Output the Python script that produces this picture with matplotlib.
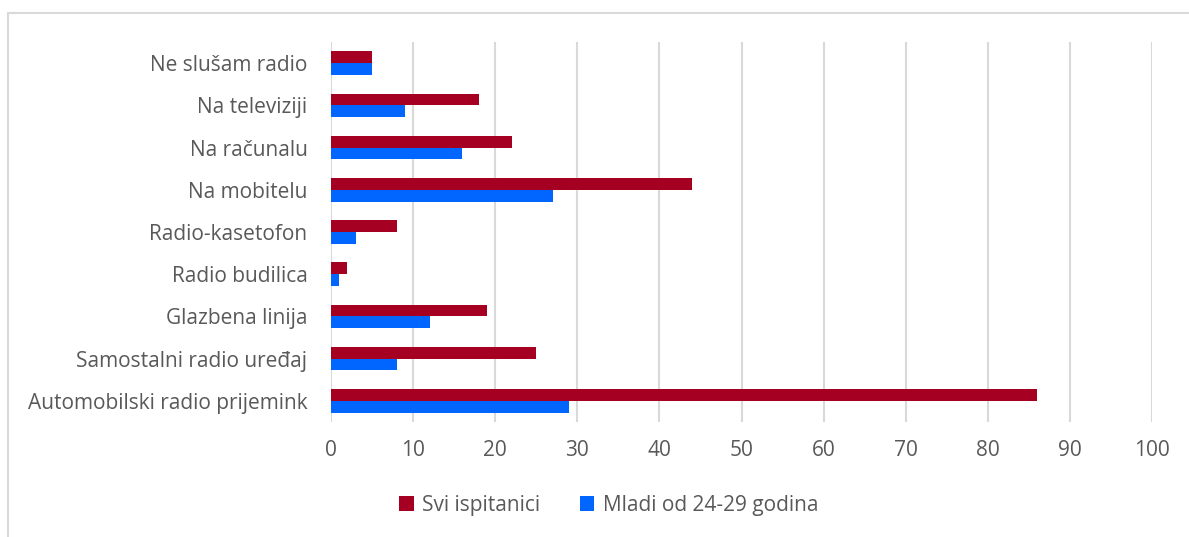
import numpy as np
import matplotlib
matplotlib.use('Agg')
from matplotlib import pyplot as plt
from matplotlib.patches import Rectangle

categories = ['Ne slušam radio', 'Na televiziji', 'Na računalu', 'Na mobitelu',
              'Radio-kasetofon', 'Radio budilica', 'Glazbena linija',
              'Samostalni radio uređaj', 'Automobilski radio prijemink']
svi = [5, 18, 22, 44, 8, 2, 19, 25, 86]
mladi = [5, 9, 16, 27, 3, 1, 12, 8, 29]

colorSvi = '#A50021'
colorMladi = '#0066FF'
textColor = '#595959'

plt.rcParams['font.family'] = ['Open Sans', 'DejaVu Sans']

fig = plt.figure(figsize=(11.89, 5.37), dpi=100)
ax = fig.add_axes([0.2784, 0.2142, 0.6905, 0.7076])

# top category first -> reverse positions
y = np.arange(len(categories))[::-1]
h = 0.28
ax.barh(y + h/2, svi, height=h, color=colorSvi, label='Svi ispitanici', zorder=3)
ax.barh(y - h/2, mladi, height=h, color=colorMladi, label='Mladi od 24-29 godina', zorder=3)

ax.set_xlim(0, 100)
ax.set_ylim(-0.5, len(categories) - 0.5)
ax.set_xticks(np.arange(0, 101, 10))
ax.set_yticks(y)
ax.set_yticklabels(categories)
ax.grid(axis='x', color='#D9D9D9', linewidth=1.5, zorder=0)
for s in ax.spines.values():
    s.set_visible(False)
ax.tick_params(axis='both', length=0, labelsize=15, colors=textColor)
ax.tick_params(axis='x', pad=13)
ax.tick_params(axis='y', pad=17)

fig.legend(loc='center', bbox_to_anchor=(0.512, 1 - 505/537), ncol=2, frameon=False,
           fontsize=15, labelcolor=textColor, handlelength=0.7, handleheight=0.7,
           columnspacing=1.9, handletextpad=0.4)

fig.patches.append(Rectangle((8/1189, -0.1), 1.1, 1 - 13/537 + 0.1, transform=fig.transFigure,
                             fill=False, edgecolor='#D9D9D9', linewidth=1.5))

fig.savefig('out.png', dpi=100)
